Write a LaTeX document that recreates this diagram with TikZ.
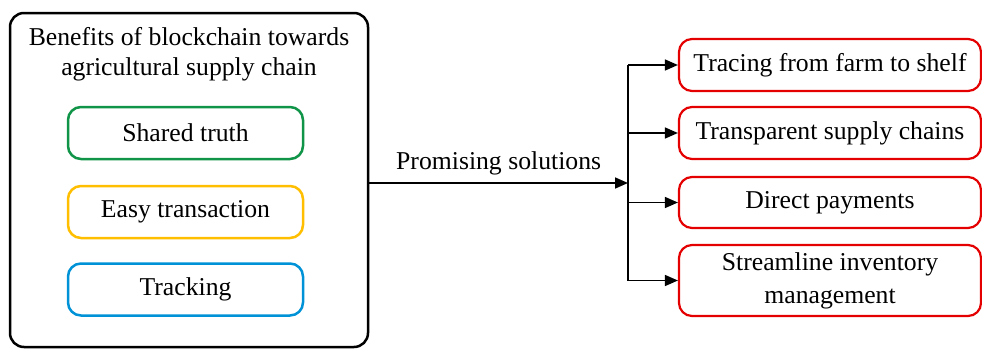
\documentclass[tikz,border=0pt]{standalone}
\usepackage{fontspec}
\setmainfont{Liberation Serif}
\usetikzlibrary{arrows.meta, positioning, calc}
\definecolor{truthgreen}{RGB}{16,148,72}
\definecolor{easyorange}{RGB}{255,190,0}
\definecolor{trackblue}{RGB}{0,146,214}
\definecolor{solred}{RGB}{228,0,0}

\begin{document}
\begin{tikzpicture}[x=1pt, y=-1pt,
    font=\fontsize{25.7}{30}\selectfont,
    benefitbox/.style={draw, line width=2.5pt, rounded corners=13pt, minimum width=235pt, minimum height=52pt},
    solutionbox/.style={draw=solred, line width=2.2pt, rounded corners=13pt, minimum width=302pt, align=center},
    flow/.style={line width=1.6pt, -{Triangle[length=13pt, width=11pt]}}]
\useasboundingbox (0,0) rectangle (982,348);

% Benefits
\node[draw, line width=2.5pt, rounded corners=14pt, minimum width=358pt, minimum height=334pt] (benefits) at (189,180) {};
\node[align=center] (title) at (189,54.5) {Benefits of blockchain towards\\agricultural supply chain};
\node[benefitbox, draw=truthgreen] (truth) at (185.5,133) {Shared truth};
\node[benefitbox, draw=easyorange] (easy) at (185.5,212) {Easy transaction};
\node[benefitbox, draw=trackblue] (track) at (185.5,289.5) {Tracking};

% Solutions
\node[solutionbox, minimum height=52pt] (sol1) at (830,65) {Tracing from farm to shelf};
\node[solutionbox, minimum height=52pt] (sol2) at (830,133) {Transparent supply chains};
\node[solutionbox, minimum height=51pt] (sol3) at (830,202.5) {Direct payments};
\node[solutionbox, minimum height=71pt] (sol4) at (830,280.5) {Streamline inventory\\[3pt]management};

% Connections
\coordinate (split) at (628,183);
\draw[flow] (benefits.east |- split) -- node[above=4pt] (promise) {Promising solutions} (split);
\draw[line width=1.6pt] (split |- sol1) -- (split |- sol4);
\foreach \i in {1,2,3,4} {
    \draw[flow] (split |- sol\i) -- (sol\i.west);
}
\end{tikzpicture}
\end{document}
